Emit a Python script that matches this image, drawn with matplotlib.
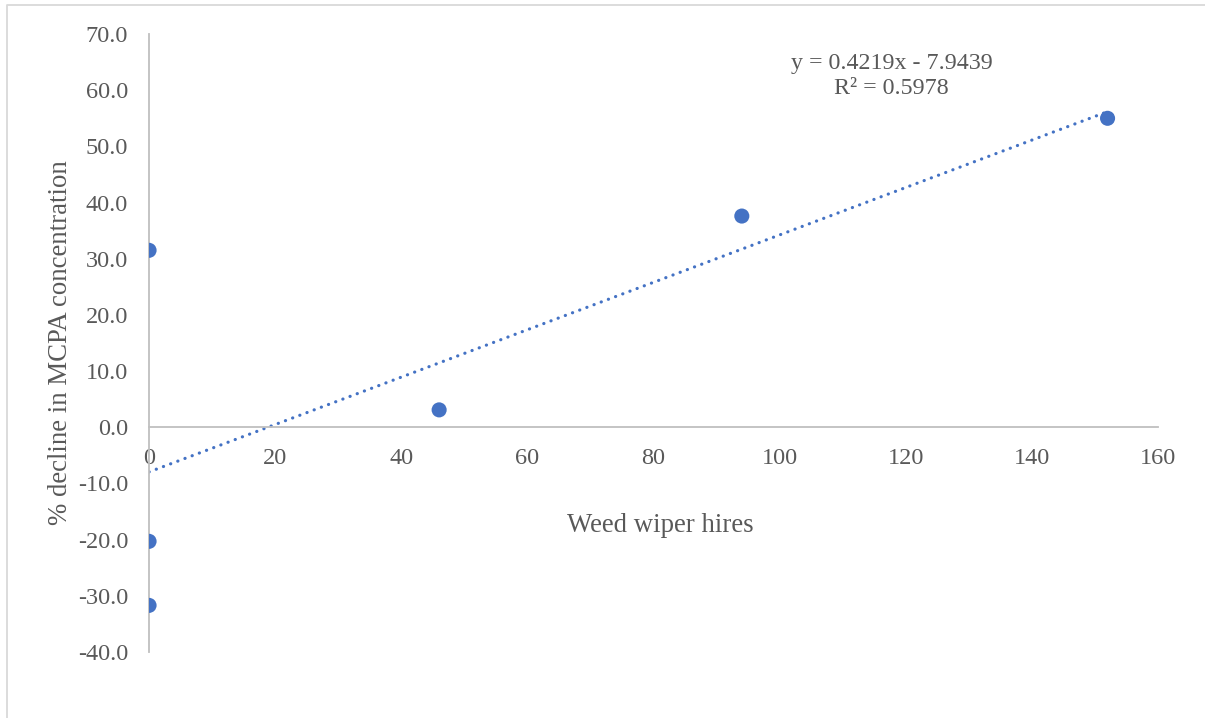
import matplotlib.pyplot as plt
from matplotlib.lines import Line2D
import numpy as np

# weed wiper hires vs. % decline in MCPA concentration
hires = [0, 0, 0, 46, 94, 152]
decline = [31.5, -20.3, -31.7, 3.1, 37.6, 55.0]

# linear trendline as reported
slope = 0.4219
intercept = -7.9439
r_squared = 0.5978

x_ticks = [0, 20, 40, 60, 80, 100, 120, 140, 160]
y_ticks = [-40, -30, -20, -10, 0, 10, 20, 30, 40, 50, 60, 70]

plt.rcParams['font.family'] = ['Liberation Serif', 'DejaVu Serif']
text_col = '#595959'
axis_col = '#BFBFBF'
blue = '#4472C4'

fig = plt.figure(figsize=(12.05, 7.18), dpi=100)
ax = fig.add_axes([0.1237, 0.0919, 0.8373, 0.8607])

# trendline over the data range
xs = np.array([min(hires), max(hires)])
ax.plot(xs, slope * xs + intercept, color=blue, lw=2.3,
        linestyle=(0, (0.05, 2.35)), dash_capstyle='round', zorder=2)
ax.scatter(hires, decline, s=118, color=blue, edgecolors='none', zorder=3)

ax.set_xlim(0, 160)
ax.set_ylim(-40, 70)
ax.set_xticks(x_ticks)
ax.set_yticks(y_ticks)
ax.set_yticklabels([f'{v:.1f}' for v in y_ticks])

for side in ['top', 'right']:
    ax.spines[side].set_visible(False)
ax.spines['bottom'].set_position(('data', 0))
for side in ['left', 'bottom']:
    ax.spines[side].set_color(axis_col)
    ax.spines[side].set_linewidth(1.3)

ax.tick_params(axis='both', length=0, labelsize=17.5, labelcolor=text_col)
ax.tick_params(axis='y', pad=15)
ax.tick_params(axis='x', pad=15)

ax.text(0.507, 0.2055, 'Weed wiper hires', transform=ax.transAxes,
        ha='center', va='center', fontsize=19.3, color=text_col)
ax.text(-0.088, 0.5, '% decline in MCPA concentration', transform=ax.transAxes,
        ha='center', va='center', rotation=90, fontsize=19.3, color=text_col)

eq = f'y = {slope:.4f}x - {abs(intercept):.4f}\nR² = {r_squared:.4f}'
ax.text(0.736, 0.932, eq, transform=ax.transAxes, ha='center', va='center',
        fontsize=17.3, color=text_col, linespacing=1.2)

# chart area border (left and top edges)
fig.add_artist(Line2D([7 / 1205, 7 / 1205, 1.0], [0.0, 1 - 5 / 718, 1 - 5 / 718],
                      transform=fig.transFigure, color='#D9D9D9', lw=1.3))

fig.savefig('out.png', dpi=100)
